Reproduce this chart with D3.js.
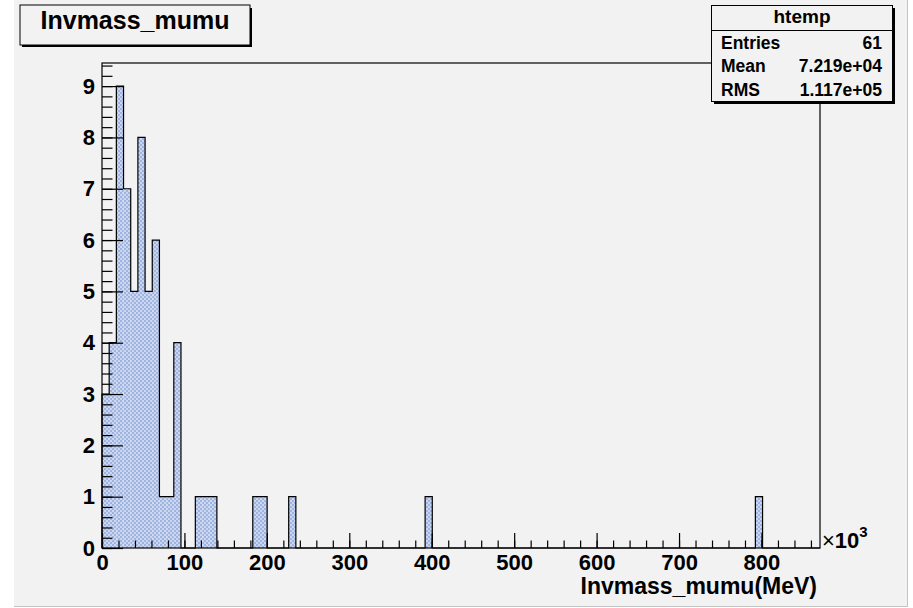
<!DOCTYPE html>
<html>
<head>
<meta charset="utf-8">
<script src="https://cdn.jsdelivr.net/npm/d3@7"></script>
<style>
  body { margin: 0; background: #fff; }
  text { font-family: "Liberation Sans", Arial, Helvetica, sans-serif; font-weight: bold; fill: #000; }
</style>
</head>
<body>
<svg id="chart" width="913" height="608"></svg>
<script>
// histogram htemp: 100 bins between xLow and xHigh (units of 10^3 MeV)
const xLow = 0;
const xHigh = 871;
const binCounts = [
  3, 4, 9, 7, 5, 8, 5, 6, 1, 1, 4, 0, 0, 1, 1, 1, 0, 0, 0, 0,
  0, 1, 1, 0, 0, 0, 1, 0, 0, 0, 0, 0, 0, 0, 0, 0, 0, 0, 0, 0,
  0, 0, 0, 0, 0, 1, 0, 0, 0, 0, 0, 0, 0, 0, 0, 0, 0, 0, 0, 0,
  0, 0, 0, 0, 0, 0, 0, 0, 0, 0, 0, 0, 0, 0, 0, 0, 0, 0, 0, 0,
  0, 0, 0, 0, 0, 0, 0, 0, 0, 0, 0, 1, 0, 0, 0, 0, 0, 0, 0, 0
];
const xTicks = [0, 100, 200, 300, 400, 500, 600, 700, 800];
const yTicks = [0, 1, 2, 3, 4, 5, 6, 7, 8, 9];
const statLabels = ['Entries', 'Mean', 'RMS'];
const statValues = ['61', '7.219e+04', '1.117e+05'];
const histTitle = 'Invmass_mumu';
const statTitle = 'htemp';
const xTitle = 'Invmass_mumu(MeV)';

const svg = d3.select('#chart');
const frame = { left: 102, right: 820, top: 63, bottom: 548 };
const nBins = binCounts.length;
const binW = (xHigh - xLow) / nBins;
const yMax = d3.max(binCounts) * 1.05;

const x = d3.scaleLinear().domain([xLow, xHigh]).range([frame.left, frame.right]);
const y = d3.scaleLinear().domain([0, yMax]).range([frame.bottom, frame.top]);

// canvas
svg.append('rect').attr('x', 14).attr('y', 0).attr('width', 893).attr('height', 606)
  .attr('fill', '#f2f2f2');
svg.append('line').attr('x1', 907.5).attr('x2', 907.5).attr('y1', 0).attr('y2', 607)
  .attr('stroke', '#c4c4c4');
svg.append('line').attr('x1', 14).attr('x2', 908).attr('y1', 606.5).attr('y2', 606.5)
  .attr('stroke', '#c4c4c4');

// fill pattern
const defs = svg.append('defs');
const pat = defs.append('pattern').attr('id', 'dots').attr('patternUnits', 'userSpaceOnUse')
  .attr('width', 4).attr('height', 4);
pat.append('rect').attr('width', 4).attr('height', 4).attr('fill', '#cbd6ef');
pat.append('rect').attr('width', 2).attr('height', 2).attr('fill', '#9fb3e0');
pat.append('rect').attr('x', 2).attr('y', 2).attr('width', 2).attr('height', 2).attr('fill', '#9fb3e0');

const bins = binCounts.map((c, i) => ({ x0: xLow + i * binW, x1: xLow + (i + 1) * binW, c }));

svg.append('g').selectAll('rect')
  .data(bins.filter(d => d.c > 0))
  .enter().append('rect')
  .attr('x', d => x(d.x0))
  .attr('y', d => y(d.c))
  .attr('width', d => x(d.x1) - x(d.x0))
  .attr('height', d => y(0) - y(d.c))
  .attr('fill', 'url(#dots)');

// outline
const pts = [[xLow, 0]];
bins.forEach(d => { pts.push([d.x0, d.c]); pts.push([d.x1, d.c]); });
pts.push([xHigh, 0]);
svg.append('path')
  .attr('d', d3.line().x(d => x(d[0])).y(d => y(d[1]))(pts))
  .attr('fill', 'none').attr('stroke', '#000').attr('stroke-width', 1.2);

// frame
svg.append('rect').attr('x', frame.left).attr('y', frame.top)
  .attr('width', frame.right - frame.left).attr('height', frame.bottom - frame.top)
  .attr('fill', 'none').attr('stroke', '#000').attr('stroke-width', 1.2);

// axes
const xMinor = d3.range(0, 861, 20);
const yMinor = d3.range(0, 9.41, 0.2);

svg.append('g').attr('transform', `translate(0,${frame.bottom})`)
  .call(d3.axisBottom(x).tickValues(xMinor).tickFormat('').tickSizeInner(-7.5).tickSizeOuter(0))
  .call(g => g.select('.domain').remove());
svg.append('g').attr('transform', `translate(0,${frame.bottom})`)
  .call(d3.axisBottom(x).tickValues(xTicks).tickFormat(d3.format('d')).tickSizeInner(-15).tickSizeOuter(0).tickPadding(6))
  .call(g => g.select('.domain').remove())
  .call(g => g.selectAll('text').attr('font-size', 22).attr('fill', '#000'));

svg.append('g').attr('transform', `translate(${frame.left},0)`)
  .call(d3.axisLeft(y).tickValues(yMinor).tickFormat('').tickSizeInner(-10.5).tickSizeOuter(0))
  .call(g => g.select('.domain').remove());
svg.append('g').attr('transform', `translate(${frame.left},0)`)
  .call(d3.axisLeft(y).tickValues(yTicks).tickFormat(d3.format('d')).tickSizeInner(-21).tickSizeOuter(0).tickPadding(7))
  .call(g => g.select('.domain').remove())
  .call(g => g.selectAll('text').attr('font-size', 22).attr('fill', '#000'));

svg.selectAll('.tick line').attr('stroke', '#000').attr('stroke-width', 1.2);

// x10^3
const ex = svg.append('text').attr('x', 822).attr('y', 548).attr('font-size', 22);
ex.append('tspan').attr('font-weight', 'normal').text('\u00d7');
ex.append('tspan').text('10');
ex.append('tspan').attr('font-size', 15).attr('dy', -11).text('3');

// axis title
svg.append('text').attr('x', 817).attr('y', 594).attr('text-anchor', 'end')
  .attr('font-size', 23).text(xTitle);

// title box
svg.append('rect').attr('x', 22).attr('y', 8).attr('width', 230).attr('height', 39).attr('fill', '#000');
svg.append('rect').attr('x', 20).attr('y', 5).attr('width', 230).attr('height', 40)
  .attr('fill', '#f2f2f2').attr('stroke', '#000').attr('stroke-width', 1);
svg.append('text').attr('x', 135).attr('y', 29).attr('text-anchor', 'middle')
  .attr('font-size', 25).text(histTitle);

// stats box
svg.append('rect').attr('x', 714).attr('y', 8).attr('width', 181).attr('height', 96).attr('fill', '#000');
svg.append('rect').attr('x', 711.5).attr('y', 5.5).attr('width', 181).attr('height', 96)
  .attr('fill', '#f2f2f2').attr('stroke', '#000').attr('stroke-width', 1);
svg.append('line').attr('x1', 711.5).attr('x2', 892.5).attr('y1', 30.5).attr('y2', 30.5)
  .attr('stroke', '#000');
svg.append('text').attr('x', 802).attr('y', 23).attr('text-anchor', 'middle')
  .attr('font-size', 19).text(statTitle);
statLabels.forEach((s, i) => {
  const by = 48.5 + i * 23.5;
  svg.append('text').attr('x', 721).attr('y', by).attr('font-size', 17.5).text(s);
  svg.append('text').attr('x', 882).attr('y', by).attr('text-anchor', 'end')
    .attr('font-size', 17.5).text(statValues[i]);
});
</script>
</body>
</html>
